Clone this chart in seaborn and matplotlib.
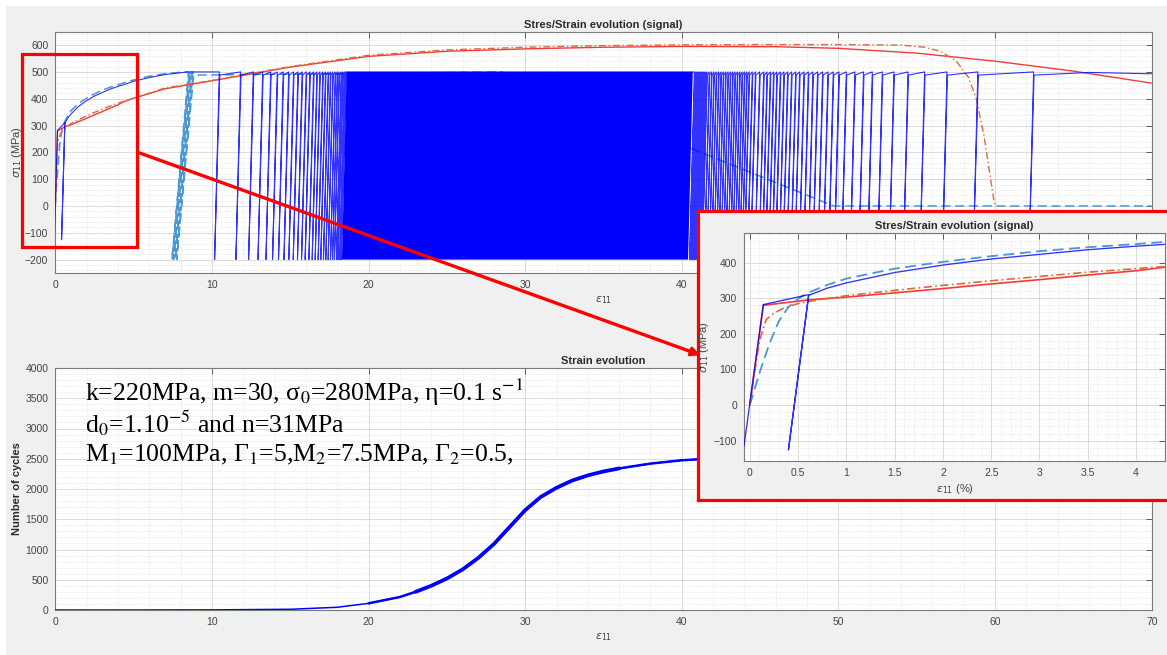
import matplotlib
matplotlib.use("Agg")
import matplotlib.pyplot as plt
import seaborn as sns
import numpy as np
import pandas as pd
from matplotlib.ticker import AutoMinorLocator, MultipleLocator
from matplotlib.patches import Rectangle, FancyArrowPatch

# ---------------- data (strain in %, stress in MPa) ----------------
blue_strain = [-0.06, 0.14, 0.61, 0.40, 0.61, 0.8, 1.0, 1.5, 2.0, 2.5, 3.0, 3.5, 4.0, 4.3, 5, 6, 7, 8, 8.5]
blue_stress = [-115, 282, 310, -126, 308, 328, 343, 372, 393, 410, 423, 436, 446, 451, 465, 479, 490, 497, 500]
blue_peaks_left = [10.47, 11.83, 12.64, 13.24, 13.75, 14.17, 14.55, 14.9, 15.21, 15.49, 15.76, 16.02,
                   16.25, 16.49, 16.7, 16.89, 17.08, 17.25, 17.42, 17.57, 17.72, 17.87, 18.0, 18.12,
                   18.25, 18.35, 18.46, 18.55]
blue_dense_block = [18.6, 40.7]
blue_peaks_right = [40.8, 40.9, 41.0, 41.1, 41.2, 41.3, 41.4, 41.5, 41.6, 41.75, 41.9, 42.05, 42.2, 42.35,
                    42.5, 42.65, 42.8, 42.95, 43.1, 43.25, 43.4, 43.55, 43.7, 43.85, 44.0, 44.15, 44.3,
                    44.5, 44.7, 44.97, 45.23, 45.44, 45.65, 45.86, 46.07, 46.29, 46.52, 46.76, 47.01,
                    47.27, 47.52, 47.8, 48.08, 48.37, 48.67, 48.99, 49.33, 49.67, 50.03, 50.5, 51.05,
                    51.6, 52.16, 52.8, 53.54, 54.44, 55.5, 56.93, 58.9, 62.46]
blue_tail_strain = [66, 70]
blue_tail_stress = [498, 493]
blue_unload = 0.3
cycle_max, cycle_min = 500, -200

lb_strain = [0, 0.1, 0.2, 0.3, 0.4, 0.5, 0.6, 0.8, 1.0, 1.5, 2.0, 2.5, 3.0, 3.5, 4.0, 4.3, 5, 6, 7, 8, 8.5]
lb_stress = [0, 90, 170, 235, 275, 298, 315, 337, 355, 383, 402, 418, 432, 443, 452, 458, 470, 484, 493, 499, 500]
lb_peaks = [8.5, 8.6, 8.7, 8.8]
lb_unload = 1.05
lb_tail_strain = [28.5, 49.7, 70]
lb_tail_stress = [500, 0, 0]

orange_strain = [0, 0.1, 0.17, 0.25, 0.35, 0.5, 0.7, 1.0, 1.5, 2.0, 2.5, 3.0, 3.5, 4.0, 4.3, 5, 7, 10, 15,
                 20, 25, 30, 35, 40, 45, 50, 54, 55.5, 56.5, 57.5, 58.3, 58.8, 59.3, 59.9, 60]
orange_stress = [0, 180, 240, 258, 272, 285, 295, 307, 322, 336, 349, 361, 373, 383, 389, 402, 440, 468,
                 520, 562, 582, 592, 598, 601, 602, 602, 600, 592, 577, 542, 480, 400, 260, 30, 0]

red_strain = [0, 0.14, 0.6, 1.0, 1.5, 2, 2.5, 3, 3.5, 4, 4.3, 5, 7, 10, 15, 20, 25, 30, 35, 40, 46, 50,
              55, 60, 65, 70]
red_stress = [0, 280, 295, 303, 315, 327, 340, 352, 365, 377, 387, 402, 437, 467, 518, 558, 577, 586,
              592, 595, 594, 588, 570, 540, 503, 458]

n_strain = [0, 5, 10, 15, 18, 20, 22, 23, 24, 25, 26, 27, 28, 29, 30, 31, 32, 33, 34, 35, 36, 38, 40, 42, 44]
n_cycles = [0, 0, 2, 12, 45, 110, 215, 300, 400, 520, 670, 860, 1090, 1370, 1650, 1870, 2020, 2140,
            2225, 2290, 2340, 2420, 2475, 2505, 2525]

params_lines = [
    r"k=220MPa, m=30, σ$_{0}$=280MPa, η=0.1 s$^{-1}$",
    r"d$_{0}$=1.10$^{-5}$ and n=31MPa",
    r"M$_{1}$=100MPa, Γ$_{1}$=5,M$_{2}$=7.5MPa, Γ$_{2}$=0.5,",
]

# ---------------- helpers ----------------
def cycle_path(peaks, unload, top, bottom):
    xs, ys = [], []
    for p in peaks:
        xs += [p, p - unload, p + 0.03]
        ys += [top, bottom, top - 12]
    return xs, ys

lx, ly = cycle_path(blue_peaks_left, blue_unload, cycle_max, cycle_min)
rx, ry = cycle_path(blue_peaks_right, blue_unload, cycle_max, cycle_min)
blue_x = blue_strain + lx + blue_dense_block + rx + blue_tail_strain
blue_y = blue_stress + ly + [cycle_max, cycle_max] + ry + blue_tail_stress

cx, cy = cycle_path(lb_peaks, lb_unload, cycle_max, cycle_min)
lb_x = lb_strain + cx + lb_tail_strain
lb_y = lb_stress + cy + lb_tail_stress

df_blue = pd.DataFrame({"strain": blue_x, "stress": blue_y})
df_lb = pd.DataFrame({"strain": lb_x, "stress": lb_y})
df_or = pd.DataFrame({"strain": orange_strain, "stress": orange_stress})
df_red = pd.DataFrame({"strain": red_strain, "stress": red_stress})
df_n = pd.DataFrame({"strain": n_strain, "cycles": n_cycles})

# ---------------- style ----------------
sns.set_theme(style="white")
plt.rcParams["font.family"] = ["Liberation Sans", "DejaVu Sans"]
plt.rcParams["mathtext.fontset"] = "dejavusans"

BLUE = "#0000ff"
LBLUE = "#4a98d4"
ORANGE = "#dc6a3a"
RED = "#f23c3c"
TXT = "#2b2b2b"

W, H = 1167, 655
fig = plt.figure(figsize=(W / 100, H / 100), dpi=100)
fig.patch.set_facecolor("#f0f0f0")
fig.add_artist(Rectangle((0, 1 - 5 / H), 1, 5 / H, transform=fig.transFigure, color="white", zorder=0))
fig.add_artist(Rectangle((0, 0), 5 / W, 1, transform=fig.transFigure, color="white", zorder=0))


def fx(px):
    return px / W


def fy(py):
    return 1 - py / H


def style_axes(ax, xmaj, ymaj):
    ax.set_facecolor("white")
    ax.xaxis.set_major_locator(MultipleLocator(xmaj))
    ax.yaxis.set_major_locator(MultipleLocator(ymaj))
    ax.xaxis.set_minor_locator(AutoMinorLocator(5))
    ax.yaxis.set_minor_locator(AutoMinorLocator(5))
    ax.set_axisbelow(True)
    ax.grid(True, which="major", color="#d6d6d6", lw=0.6, ls="-")
    ax.grid(True, which="minor", color="#dcdcdc", lw=0.5, ls=(0, (1, 1.5)))
    ax.tick_params(which="major", direction="in", top=True, right=True, length=4, width=0.6,
                   color="#444444", labelcolor="#444444", labelsize=7.5, pad=5)
    ax.tick_params(which="minor", length=0)
    for s in ax.spines.values():
        s.set_color("#7a7a7a")
        s.set_linewidth(0.8)


def draw_stress(ax, lw):
    sns.lineplot(data=df_lb, x="strain", y="stress", sort=False, estimator=None, ax=ax,
                 color=LBLUE, lw=lw * 1.1, linestyle=(0, (6, 3)), zorder=2)
    sns.lineplot(data=df_red, x="strain", y="stress", sort=False, estimator=None, ax=ax,
                 color=RED, lw=lw, zorder=3)
    sns.lineplot(data=df_or, x="strain", y="stress", sort=False, estimator=None, ax=ax,
                 color=ORANGE, lw=lw, linestyle=(0, (5, 2, 1, 2)), zorder=3)
    sns.lineplot(data=df_blue, x="strain", y="stress", sort=False, estimator=None, ax=ax,
                 color=BLUE, lw=lw * 0.8, alpha=0.8, zorder=4)


# ---------------- top: stress/strain ----------------
ax1 = fig.add_axes([fx(55.3), fy(273), fx(1151.7 - 55.3), (273 - 31.7) / H])
style_axes(ax1, 10, 100)
draw_stress(ax1, 1.0)
ax1.fill([blue_dense_block[0], blue_dense_block[1], blue_dense_block[1] - blue_unload,
          blue_dense_block[0] - blue_unload],
         [cycle_max, cycle_max, cycle_min, cycle_min], color=BLUE, lw=0, zorder=4)
ax1.set_xlim(0, 70)
ax1.set_ylim(-250, 650)
ax1.set_title("Stres/Strain evolution (signal)", fontsize=8, fontweight="bold", color=TXT, pad=3)
ax1.set_xlabel(r"$\epsilon_{11}$", fontsize=8, color="#444444", labelpad=3)
ax1.set_ylabel(r"$\sigma_{11}$ (MPa)", fontsize=8, color="#444444", labelpad=1)

# ---------------- bottom: strain evolution ----------------
ax2 = fig.add_axes([fx(55.3), fy(610), fx(1151.7 - 55.3), (610 - 368) / H])
style_axes(ax2, 10, 500)
sns.lineplot(data=df_n, x="strain", y="cycles", ax=ax2, color=BLUE, lw=1.1, zorder=3)
band_mid = df_n[(df_n["strain"] >= 20) & (df_n["strain"] <= 42)]
sns.lineplot(data=band_mid, x="strain", y="cycles", ax=ax2, color=BLUE, lw=1.8, zorder=3)
band_core = df_n[(df_n["strain"] >= 23) & (df_n["strain"] <= 36)]
sns.lineplot(data=band_core, x="strain", y="cycles", ax=ax2, color=BLUE, lw=2.7, zorder=3)
ax2.set_xlim(0, 70)
ax2.set_ylim(0, 4000)
ax2.set_title("Strain evolution", fontsize=8, fontweight="bold", color=TXT, pad=3)
ax2.set_xlabel(r"$\epsilon_{11}$", fontsize=8, color="#444444", labelpad=3)
ax2.set_ylabel("Number of cycles", fontsize=8, fontweight="bold", color=TXT, labelpad=2)

for i, line in enumerate(params_lines):
    fig.text(fx(85), fy(392 + 31.5 * i), line, fontsize=18.5, family="Liberation Serif",
             math_fontfamily="stix", color="black", va="center", ha="left", zorder=8)

# ---------------- zoom box + arrow ----------------
fig.add_artist(Rectangle((fx(22), fy(247)), fx(137 - 22), (247 - 54) / H, transform=fig.transFigure,
                         fill=False, ec="#ff0000", lw=2.3, zorder=6))

panel = fig.add_axes([fx(698), fy(500), fx(1180 - 698), (500 - 211) / H], zorder=5)
panel.set_facecolor("#f0f0f0")
panel.set_xticks([])
panel.set_yticks([])
for s in panel.spines.values():
    s.set_color("#ff0000")
    s.set_linewidth(2.3)

ax3 = fig.add_axes([fx(744), fy(461), fx(1165 - 744), (461 - 233) / H], zorder=6)
style_axes(ax3, 0.5, 100)
draw_stress(ax3, 1.2)
ax3.set_xlim(-0.06, 4.3)
ax3.set_ylim(-157, 483)
ax3.xaxis.set_major_formatter(plt.FuncFormatter(lambda v, p: f"{v:g}"))
ax3.set_title("Stres/Strain evolution (signal)", fontsize=8, fontweight="bold", color=TXT, pad=3)
ax3.set_xlabel(r"$\epsilon_{11}$ (%)", fontsize=8, color="#444444", labelpad=3)
ax3.set_ylabel(r"$\sigma_{11}$ (MPa)", fontsize=8, color="#444444", labelpad=2)

fig.add_artist(FancyArrowPatch(posA=(fx(137), fy(152)), posB=(fx(703), fy(356)),
                               transform=fig.transFigure, arrowstyle="-|>", mutation_scale=12,
                               color="#ff0000", lw=2.4, zorder=9))

fig.savefig("out.png", dpi=100, facecolor=fig.get_facecolor())
